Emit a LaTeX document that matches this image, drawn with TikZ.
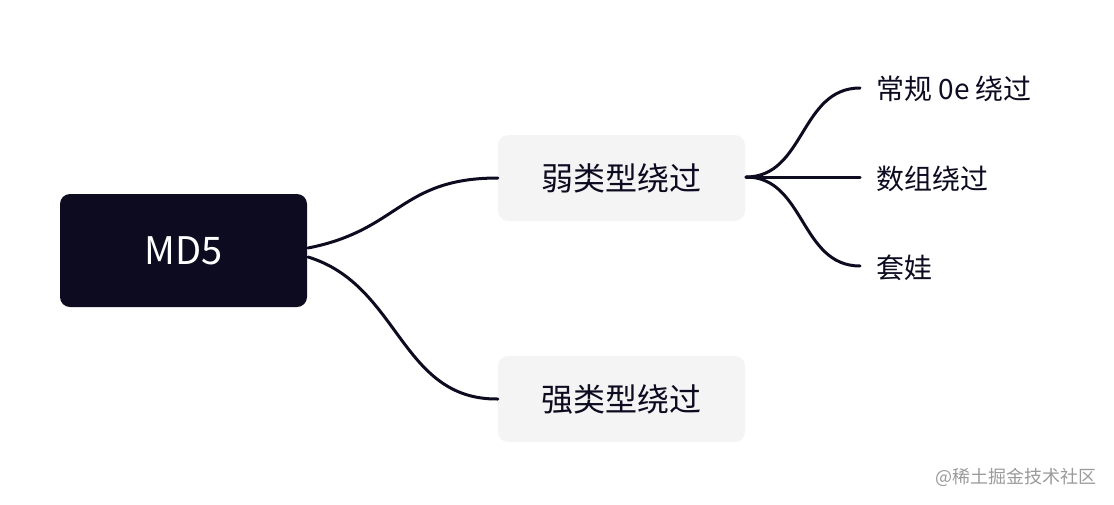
\documentclass[tikz,border=0pt]{standalone}
\usepackage{fontspec}
\setmainfont{Noto Sans CJK SC}
\definecolor{ink}{HTML}{0D0B20}
\definecolor{boxgray}{HTML}{F4F4F4}
\definecolor{wm}{HTML}{9A9A9A}
\begin{document}
\begin{tikzpicture}[x=1pt,y=-1pt,
  rootbox/.style={fill=ink,rounded corners=10pt,minimum width=247pt,minimum height=113pt,text=white,font=\fontsize{38}{42}\selectfont,inner sep=0pt},
  subbox/.style={fill=boxgray,rounded corners=10pt,minimum width=247pt,minimum height=86pt,text=ink,font=\fontsize{32}{36}\selectfont,inner sep=0pt},
  leaf/.style={anchor=west,text=ink,font=\fontsize{28}{32}\selectfont,inner sep=0pt},
  link/.style={draw=ink,line width=3pt,line cap=round}]
\useasboundingbox (0,0) rectangle (1114,504);
\node[rootbox] (md5) at (183.5,250.5) {MD5};
\node[subbox] (weak) at (621.5,178) {弱类型绕过};
\node[subbox] (strong) at (621.5,399) {强类型绕过};
\node[leaf] (l1) at (876,89) {常规 0e 绕过};
\node[leaf] (l2) at (876,179) {数组绕过};
\node[leaf] (l3) at (876,268) {套娃};
\coordinate (r1) at (308,248);
\coordinate (r2) at (308,257);
\coordinate (b) at (746,177);
\coordinate (e1) at (860,88);
\coordinate (e2) at (860,177);
\coordinate (e3) at (860,266);
\draw[link] (r1) .. controls (400,230) and (400,178) .. (weak.west);
\draw[link] (r2) .. controls (400,285) and (400,400) .. (strong.west);
\draw[link] (b) .. controls (805,177) and (800,88) .. (e1);
\draw[link] (b) -- (e2);
\draw[link] (b) .. controls (805,177) and (800,266) .. (e3);
\node[anchor=east,text=wm,font=\fontsize{18}{20}\selectfont,inner sep=0pt] (wmk) at (1097,477) {@稀土掘金技术社区};
\end{tikzpicture}
\end{document}
